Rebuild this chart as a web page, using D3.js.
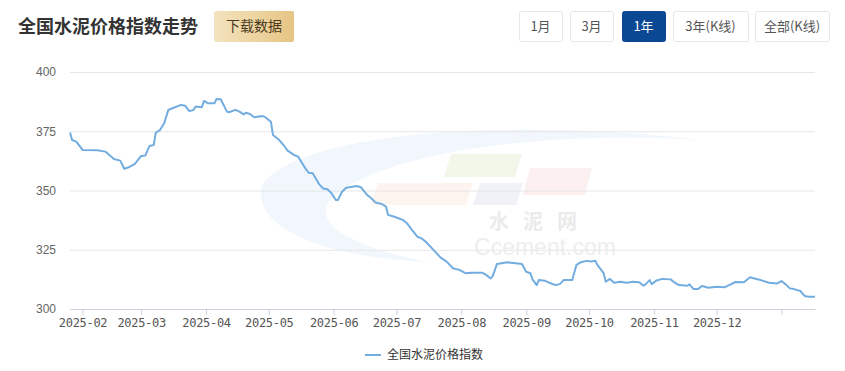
<!DOCTYPE html>
<html>
<head>
<meta charset="utf-8">
<script src="https://cdn.jsdelivr.net/npm/d3@7"></script>
<style>
  body { margin: 0; background: #fff; }
  svg { display: block; font-family: "Microsoft YaHei", "Noto Sans CJK SC", sans-serif; }
</style>
</head>
<body>
<div class="chart"></div>
<script>
// index values (date, value)
var dates = ["2025-01-26","2025-01-27","2025-01-29","2025-02-01","2025-02-08","2025-02-12","2025-02-16","2025-02-19","2025-02-21","2025-02-23",
  "2025-02-26","2025-03-01","2025-03-03","2025-03-05","2025-03-07","2025-03-08","2025-03-10","2025-03-12","2025-03-14","2025-03-16",
  "2025-03-20","2025-03-22","2025-03-24","2025-03-26","2025-03-27","2025-03-30","2025-03-31","2025-04-02","2025-04-05","2025-04-06",
  "2025-04-08","2025-04-11","2025-04-12","2025-04-15","2025-04-17","2025-04-19","2025-04-20","2025-04-22","2025-04-24","2025-04-28",
  "2025-04-29","2025-05-02","2025-05-03","2025-05-06","2025-05-08","2025-05-10","2025-05-13","2025-05-15","2025-05-18","2025-05-20",
  "2025-05-22","2025-05-25","2025-05-27","2025-05-29","2025-05-31","2025-06-02","2025-06-03","2025-06-05","2025-06-07","2025-06-10",
  "2025-06-12","2025-06-14","2025-06-17","2025-06-19","2025-06-21","2025-06-24","2025-06-26","2025-06-27","2025-06-30","2025-07-02",
  "2025-07-04","2025-07-06","2025-07-08","2025-07-11","2025-07-13","2025-07-15","2025-07-18","2025-07-22","2025-07-25","2025-07-28",
  "2025-07-31","2025-08-03","2025-08-06","2025-08-11","2025-08-13","2025-08-15","2025-08-16","2025-08-18","2025-08-23","2025-08-27",
  "2025-08-30","2025-09-01","2025-09-03","2025-09-04","2025-09-06","2025-09-07","2025-09-10","2025-09-12","2025-09-15","2025-09-17",
  "2025-09-19","2025-09-23","2025-09-25","2025-09-27","2025-09-30","2025-10-02","2025-10-04","2025-10-05","2025-10-08","2025-10-09",
  "2025-10-11","2025-10-13","2025-10-16","2025-10-19","2025-10-22","2025-10-25","2025-10-27","2025-10-28","2025-10-30","2025-10-31",
  "2025-11-02","2025-11-05","2025-11-09","2025-11-11","2025-11-13","2025-11-17","2025-11-18","2025-11-20","2025-11-22","2025-11-24",
  "2025-11-27","2025-12-01","2025-12-05","2025-12-07","2025-12-10","2025-12-14","2025-12-17","2025-12-19","2025-12-22","2025-12-26",
  "2025-12-30","2026-01-01","2026-01-03","2026-01-05","2026-01-07","2026-01-10","2026-01-12","2026-01-14","2026-01-17"];

var values = [374.5,371.3,370.6,367.1,367.0,366.4,363.3,362.6,359.1,359.8,
  361.2,364.6,364.8,368.8,369.2,374.4,375.5,378.4,384.0,384.7,
  386.1,385.8,383.5,384.0,385.4,385.1,387.8,386.8,386.8,388.6,
  388.5,383.3,383.0,384.0,383.3,382.1,382.8,382.3,380.9,381.4,
  381.1,379.0,373.4,371.3,369.2,366.8,365.0,364.3,360.0,357.5,
  357.3,352.7,350.8,350.5,348.8,346.0,346.0,349.5,351.2,351.6,
  351.9,351.4,348.1,346.7,344.9,344.3,343.2,339.7,338.9,338.3,
  337.6,336.2,333.8,330.5,329.8,328.4,325.6,321.8,320.0,317.2,
  316.5,315.1,315.3,315.3,314.3,312.9,313.9,319.0,319.7,319.3,
  319.0,315.7,315.1,312.5,310.1,312.2,311.9,311.1,310.1,310.5,
  312.2,312.2,318.6,319.7,320.3,320.0,320.4,318.6,315.1,311.5,
  312.7,311.1,311.5,311.1,311.5,311.3,309.8,310.4,312.2,310.5,
  311.9,312.7,312.5,311.1,310.1,309.8,310.4,308.4,308.4,309.7,
  309.0,309.4,309.2,310.1,311.4,311.3,313.4,312.9,312.2,311.1,
  310.8,311.8,310.4,308.7,308.4,307.6,305.5,305.2,305.2];

var yTicks = [300, 325, 350, 375, 400];
var monthTicks = ["2025-02","2025-03","2025-04","2025-05","2025-06","2025-07","2025-08","2025-09","2025-10","2025-11","2025-12","2026-01"];
var monthLabels = ["2025-02","2025-03","2025-04","2025-05","2025-06","2025-07","2025-08","2025-09","2025-10","2025-11","2025-12",""];
var rangeButtons = ["1月", "3月", "1年", "3年(K线)", "全部(K线)"];
var seriesName = "全国水泥价格指数";

var svgWidth = 845;
var svgHeight = 371;
var margin = { top: 72, right: 30, bottom: 62, left: 70 };
var width = svgWidth - margin.left - margin.right;
var height = svgHeight - margin.top - margin.bottom;

var parseDay = d3.timeParse("%Y-%m-%d");
var parseMonth = d3.timeParse("%Y-%m");
var data = dates.map(function (d, i) { return { date: parseDay(d), value: values[i] }; });

var svg = d3.select(".chart")
  .append("svg")
  .attr("width", svgWidth)
  .attr("height", svgHeight);

// header: title, download button, range buttons
svg.append("text")
  .attr("x", 18).attr("y", 33)
  .attr("font-size", 18).attr("font-weight", "bold")
  .attr("fill", "#333")
  .text("全国水泥价格指数走势");

var grad = svg.append("defs").append("linearGradient").attr("id", "gold");
grad.append("stop").attr("offset", "0%").attr("stop-color", "#f4e3c0");
grad.append("stop").attr("offset", "100%").attr("stop-color", "#e6c583");

svg.append("rect")
  .attr("x", 214).attr("y", 11).attr("width", 80).attr("height", 31).attr("rx", 2)
  .attr("fill", "url(#gold)");
svg.append("text")
  .attr("x", 254).attr("y", 31).attr("text-anchor", "middle")
  .attr("font-size", 14).attr("fill", "#4a3a20")
  .text("下载数据");

var btnX = [519, 570, 622, 673, 755];
var btnW = [43, 43, 43, 75, 74];
var btn = svg.selectAll(".btn")
  .data(rangeButtons)
  .enter().append("g")
  .attr("class", "btn");
btn.append("rect")
  .attr("x", function (d, i) { return btnX[i] + 0.5; })
  .attr("y", 11.5)
  .attr("width", function (d, i) { return btnW[i]; })
  .attr("height", 30).attr("rx", 2)
  .attr("fill", function (d) { return d === "1年" ? "#0a4894" : "#fff"; })
  .attr("stroke", function (d) { return d === "1年" ? "#0a4894" : "#e6e6e6"; });
btn.append("text")
  .attr("x", function (d, i) { return btnX[i] + btnW[i] / 2; })
  .attr("y", 31)
  .attr("text-anchor", "middle")
  .attr("font-size", 13)
  .attr("fill", function (d) { return d === "1年" ? "#fff" : "#555"; })
  .text(function (d) { return d; });

// faint watermark of the source site
var wm = svg.append("g");
wm.append("path")
  .attr("d", "M262,185 C300,130 520,118 700,140 C560,130 380,150 330,200 C310,225 360,250 430,262 C330,258 250,230 262,185 Z")
  .attr("fill", "#f1f7fc");
wm.append("path").attr("d", "M451,154 L522,154 L515,177 L444,177 Z").attr("fill", "#f2f7ea");
wm.append("path").attr("d", "M378,183 L473,183 L466,205 L371,205 Z").attr("fill", "#fdf3ef");
wm.append("path").attr("d", "M480,183 L523,183 L516,205 L473,205 Z").attr("fill", "#f0f2f7");
wm.append("path").attr("d", "M530,168 L592,168 L585,195 L523,195 Z").attr("fill", "#fcefef");
wm.append("text").attr("x", 540).attr("y", 229).attr("text-anchor", "middle")
  .attr("font-size", 20).attr("font-weight", "bold").attr("fill", "#ebebeb")
  .attr("letter-spacing", 14).text("水泥网");
wm.append("text").attr("x", 545).attr("y", 255).attr("text-anchor", "middle")
  .attr("font-size", 23).attr("fill", "#eeeeee")
  .attr("font-family", "Liberation Sans, Arial, sans-serif")
  .text("Ccement.com");

var chart = svg.append("g")
  .attr("transform", `translate(${margin.left},${margin.top})`);

var xScale = d3.scaleTime()
  .domain([data[0].date, data[data.length - 1].date])
  .range([0, width]);
var yScale = d3.scaleLinear().domain([300, 400]).range([height, 0]);

// gridlines + y labels
var yAxis = d3.axisLeft(yScale)
  .tickValues(yTicks)
  .tickSize(-width)
  .tickPadding(14);
chart.append("g")
  .attr("class", "y-axis")
  .call(yAxis)
  .call(function (g) {
    g.select(".domain").remove();
    g.selectAll(".tick line").attr("stroke", "#e6e6e6");
    g.selectAll(".tick text").attr("fill", "#666").attr("font-size", 12)
      .attr("font-family", "Liberation Sans, Arial, sans-serif");
  });

// x axis
var xAxis = d3.axisBottom(xScale)
  .tickValues(monthTicks.map(parseMonth))
  .tickFormat(function (d, i) { return monthLabels[i]; })
  .tickSize(6)
  .tickSizeOuter(0)
  .tickPadding(3);
chart.append("g")
  .attr("class", "x-axis")
  .attr("transform", `translate(0,${height})`)
  .call(xAxis)
  .call(function (g) {
    g.select(".domain").attr("stroke", "#ccd1dc");
    g.selectAll(".tick line").attr("stroke", "#ccd1dc");
    g.selectAll(".tick text").attr("fill", "#555").attr("font-size", 12)
      .attr("font-family", "DejaVu Sans Mono, monospace").attr("letter-spacing", -0.3);
  });

// the index line
var line = d3.line()
  .x(function (d) { return xScale(d.date); })
  .y(function (d) { return yScale(d.value); });
chart.append("path")
  .datum(data)
  .attr("fill", "none")
  .attr("stroke", "#73ade0")
  .attr("stroke-width", 2)
  .attr("stroke-linejoin", "round")
  .attr("d", line);

// legend
var legend = svg.append("g").attr("transform", "translate(365,355)");
legend.append("line")
  .attr("x1", 0).attr("x2", 16)
  .attr("stroke", "#73ade0").attr("stroke-width", 2);
legend.append("text")
  .attr("x", 22).attr("y", 4)
  .attr("font-size", 12).attr("fill", "#333")
  .text(seriesName);
</script>
</body>
</html>
